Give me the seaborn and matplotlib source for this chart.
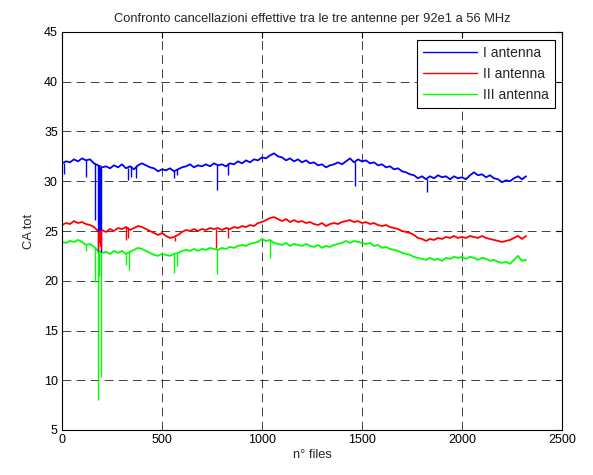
import numpy as np
import pandas as pd
import matplotlib
matplotlib.use("Agg")
import matplotlib.pyplot as plt
import seaborn as sns

# File index grid (one sample every 20 files)
files = list(range(0, 2321, 20))

ant1 = [31.8, 32.0, 31.9, 32.2, 32.0, 32.3, 32.1, 32.2, 31.8, 31.6,
        31.4, 31.5, 31.3, 31.6, 31.4, 31.7, 31.3, 31.5, 31.2, 31.6,
        31.8, 31.6, 31.4, 31.3, 31.0, 31.2, 31.1, 31.3, 31.0, 31.2,
        31.4, 31.5, 31.7, 31.4, 31.6, 31.5, 31.7, 31.5, 31.8, 31.6,
        31.7, 31.5, 31.8, 31.7, 32.0, 31.8, 32.1, 31.9, 32.2, 32.1,
        32.4, 32.3, 32.6, 32.8, 32.5, 32.4, 32.1, 32.3, 32.0, 32.2,
        31.9, 32.1, 31.8, 31.9, 31.6, 31.7, 31.4, 31.6, 31.7, 31.9,
        31.7, 32.0, 32.3, 31.9, 32.2, 32.0, 32.1, 31.8, 31.9, 31.6,
        31.7, 31.4, 31.5, 31.2, 31.3, 31.0, 30.9, 30.7, 30.6, 30.3,
        30.5, 30.2, 30.5, 30.3, 30.6, 30.4, 30.5, 30.2, 30.5, 30.3,
        30.4, 30.2, 30.6, 30.9, 30.6, 30.7, 30.4, 30.6, 30.3, 30.2,
        29.9, 30.1, 30.0, 30.3, 30.5, 30.2, 30.5]

ant2 = [25.6, 25.8, 25.7, 26.0, 25.8, 25.9, 25.7, 25.6, 25.4, 25.0,
        25.1, 24.9, 25.2, 25.0, 25.3, 25.2, 25.4, 25.1, 25.3, 25.5,
        25.4, 25.2, 25.0, 24.8, 24.6, 24.8, 24.5, 24.3, 24.4, 24.6,
        24.9, 25.1, 25.0, 25.2, 25.0, 25.2, 25.1, 25.3, 25.2, 25.3,
        25.1, 25.3, 25.2, 25.4, 25.3, 25.5, 25.4, 25.6, 25.5, 25.8,
        25.9, 26.1, 26.3, 26.4, 26.2, 26.0, 26.2, 25.9, 26.1, 25.9,
        26.0, 25.8, 25.9, 25.7, 25.6, 25.8, 25.5, 25.7, 25.8, 25.7,
        25.9, 26.0, 26.1, 25.9, 26.0, 25.8, 25.9, 25.7, 25.8, 25.6,
        25.5, 25.6, 25.4, 25.3, 25.2, 25.0, 24.9, 24.8, 24.6, 24.3,
        24.2, 24.0, 24.2, 24.1, 24.3, 24.2, 24.4, 24.3, 24.5, 24.3,
        24.4, 24.3, 24.5, 24.4, 24.3, 24.5, 24.3, 24.2, 24.1, 24.0,
        23.9, 24.0, 24.1, 24.3, 24.5, 24.2, 24.5]

ant3 = [23.9, 23.8, 24.0, 23.9, 24.1, 23.9, 23.6, 23.7, 23.4, 23.0,
        22.8, 22.9, 22.7, 23.0, 22.8, 23.0, 22.7, 22.9, 23.1, 23.3,
        23.2, 23.0, 22.8, 22.6, 22.5, 22.7, 22.6, 22.5, 22.7, 22.8,
        23.0, 23.1, 23.0, 23.2, 23.0, 23.2, 23.1, 23.3, 23.2, 23.1,
        23.3, 23.2, 23.4, 23.3, 23.5, 23.6, 23.5, 23.7, 23.8, 23.9,
        24.2, 24.0, 24.1, 23.8, 23.7, 23.6, 23.8, 23.5, 23.7, 23.6,
        23.5, 23.7, 23.5, 23.4, 23.6, 23.3, 23.5, 23.4, 23.6, 23.7,
        23.8, 24.0, 23.8, 24.0, 23.9, 23.8, 23.7, 23.8, 23.5, 23.6,
        23.3, 23.4, 23.2, 23.1, 23.0, 22.8, 22.7, 22.6, 22.4, 22.3,
        22.2, 22.1, 22.3, 22.1, 22.2, 22.0, 22.3, 22.2, 22.4, 22.3,
        22.4, 22.2, 22.4, 22.3, 22.1, 22.3, 22.2, 22.0, 22.1, 21.9,
        21.8, 21.9, 21.7, 22.1, 22.5, 22.0, 22.1]

# Sharp drops: file index and lowest value reached
ant1_drop_files = [8, 120, 165, 178, 183, 186, 190, 195, 330, 345, 372, 560, 575, 773, 832, 1465, 1823]
ant1_drop_vals = [30.7, 30.4, 26.1, 22.8, 24.5, 24.0, 24.8, 22.9, 30.1, 30.4, 30.3, 30.3, 30.6, 29.1, 30.6, 29.5, 28.9]

ant2_drop_files = [178, 183, 188, 192, 197, 318, 330, 565, 770, 828]
ant2_drop_vals = [23.0, 23.8, 23.5, 23.9, 23.2, 24.1, 24.3, 24.0, 23.3, 24.3]

ant3_drop_files = [118, 165, 178, 187, 197, 320, 335, 560, 575, 773, 1040]
ant3_drop_vals = [23.0, 19.9, 8.0, 20.5, 10.3, 21.6, 21.1, 20.8, 21.5, 20.7, 22.3]

labels = ["I antenna", "II antenna", "III antenna"]
colors = ["#0000ff", "#ff0000", "#00ff00"]

df = pd.DataFrame({
    "n° files": files * 3,
    "CA tot": ant1 + ant2 + ant3,
    "antenna": [labels[0]] * len(files) + [labels[1]] * len(files) + [labels[2]] * len(files),
})

sns.set_style("white")
plt.rcParams["font.family"] = ["Liberation Sans", "DejaVu Sans"]

fig = plt.figure(figsize=(5.93, 4.75), dpi=100)
ax = fig.add_axes([62 / 593, 1 - 430 / 475, 500 / 593, 398 / 475])

sns.lineplot(data=df, x="n° files", y="CA tot", hue="antenna",
             palette=colors, linewidth=1.3, ax=ax, legend=True)

# Drops drawn as vertical strokes down from the series level
series = [ant1, ant2, ant3]
drops = [(ant1_drop_files, ant1_drop_vals),
         (ant2_drop_files, ant2_drop_vals),
         (ant3_drop_files, ant3_drop_vals)]
for vals, (df_files, df_vals), c in zip(series, drops, colors):
    tops = [vals[int(round(f / 20))] for f in df_files]
    ax.vlines(df_files, df_vals, tops, colors=c, linewidth=1.0)

ax.set_xlim(0, 2500)
ax.set_ylim(5, 45)
ax.set_xticks(range(0, 2501, 500))
ax.set_yticks(range(5, 46, 5))
ax.grid(True, color="black", linestyle=(0, (9, 5.5)), linewidth=0.7, alpha=0.75)
ax.tick_params(direction="in", length=4, width=0.8, top=True, right=True,
               labelsize=9, colors="black", pad=3)
for s in ax.spines.values():
    s.set_color("black")
    s.set_linewidth(0.8)

ax.set_title("Confronto cancellazioni effettive tra le tre antenne per 92e1 a 56 MHz",
             fontsize=9.3, pad=7)
ax.set_xlabel("n° files", fontsize=9.3, labelpad=2)
ax.set_ylabel("CA tot", fontsize=9.3, labelpad=6)

leg = ax.legend(loc="upper right", fontsize=10, frameon=True, fancybox=False,
                edgecolor="black", framealpha=1, handlelength=3.9,
                borderpad=0.45, labelspacing=0.5, handletextpad=0.4,
                borderaxespad=0, bbox_to_anchor=(0.986, 0.980))
leg.get_frame().set_linewidth(0.8)
for h in leg.get_lines():
    h.set_linewidth(1.0)

fig.savefig("out.png", dpi=100, facecolor="white")
